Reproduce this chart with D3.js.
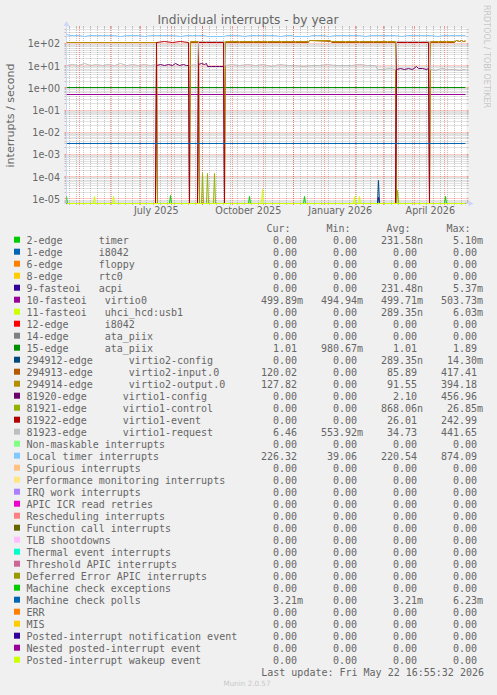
<!DOCTYPE html>
<html><head><meta charset="utf-8">
<script src="https://cdn.jsdelivr.net/npm/d3@7"></script>
<style>
html,body{margin:0;padding:0;background:#F0F0F0;}
svg text{white-space:pre;}
</style></head><body>
<svg id="chart" width="497" height="695" xmlns="http://www.w3.org/2000/svg"></svg>
<script>
// ---------------- DATA ----------------
const titleText = "Individual interrupts - by year";
const yAxisTitle = "interrupts / second";
const rangeStart = "2025-04-17T16:55:32Z";
const rangeEnd = "2026-05-22T16:55:32Z";
const lastUpdate = "Last update: Fri May 22 16:55:32 2026";
const yTickValues = [1e2, 1e1, 1e0, 1e-1, 1e-2, 1e-3, 1e-4, 1e-5];
const yTickLabels = ["1e+02", "1e+01", "1e+00", "1e-01", "1e-02", "1e-03", "1e-04", "1e-05"];
const xLabelMonths = ["2025-07-01", "2025-10-01", "2026-01-01", "2026-04-01"];
const xLabelTexts = ["July 2025", "October 2025", "January 2026", "April 2026"];

const legendNames = [
  "2-edge      timer", "1-edge      i8042", "6-edge      floppy", "8-edge      rtc0",
  "9-fasteoi   acpi", "10-fasteoi   virtio0", "11-fasteoi   uhci_hcd:usb1", "12-edge      i8042",
  "14-edge      ata_piix", "15-edge      ata_piix", "294912-edge      virtio2-config",
  "294913-edge      virtio2-input.0", "294914-edge      virtio2-output.0",
  "81920-edge      virtio1-config", "81921-edge      virtio1-control",
  "81922-edge      virtio1-event", "81923-edge      virtio1-request",
  "Non-maskable interrupts", "Local timer interrupts", "Spurious interrupts",
  "Performance monitoring interrupts", "IRQ work interrupts", "APIC ICR read retries",
  "Rescheduling interrupts", "Function call interrupts", "TLB shootdowns",
  "Thermal event interrupts", "Threshold APIC interrupts", "Deferred Error APIC interrupts",
  "Machine check exceptions", "Machine check polls", "ERR", "MIS",
  "Posted-interrupt notification event", "Nested posted-interrupt event", "Posted-interrupt wakeup event"
];
const legendColors = [
  "#00CC00", "#0066B3", "#FF8000", "#FFCC00", "#330099", "#990099", "#CCFF00", "#FF0000", "#808080",
  "#008F00", "#00487D", "#B35A00", "#B38F00", "#6B006B", "#8FB300", "#B30000", "#BEBEBE",
  "#80FF80", "#80C9FF", "#FFC080", "#FFE680", "#AA80FF", "#EE00CC", "#FF8080",
  "#666600", "#FFBFFF", "#00FFCC", "#CC6699", "#999900",
  "#00CC00", "#0066B3", "#FF8000", "#FFCC00", "#330099", "#990099", "#CCFF00"
];
const curValues = ["0.00","0.00","0.00","0.00","0.00","499.89m","0.00","0.00","0.00","1.01","0.00","120.02","127.82","0.00","0.00","0.00","6.46","0.00","226.32","0.00","0.00","0.00","0.00","0.00","0.00","0.00","0.00","0.00","0.00","0.00","3.21m","0.00","0.00","0.00","0.00","0.00"];
const minValues = ["0.00","0.00","0.00","0.00","0.00","494.94m","0.00","0.00","0.00","980.67m","0.00","0.00","0.00","0.00","0.00","0.00","553.92m","0.00","39.06","0.00","0.00","0.00","0.00","0.00","0.00","0.00","0.00","0.00","0.00","0.00","0.00","0.00","0.00","0.00","0.00","0.00"];
const avgValues = ["231.58n","0.00","0.00","0.00","231.48n","499.71m","289.35n","0.00","0.00","1.01","289.35n","85.89","91.55","2.10","868.06n","26.01","34.73","0.00","220.54","0.00","0.00","0.00","0.00","0.00","0.00","0.00","0.00","0.00","0.00","0.00","3.21m","0.00","0.00","0.00","0.00","0.00"];
const maxValues = ["5.10m","0.00","0.00","0.00","5.37m","503.73m","6.03m","0.00","0.00","1.89","14.30m","417.41","394.18","456.96","26.85m","242.99","441.65","0.00","874.09","0.00","0.00","0.00","0.00","0.00","0.00","0.00","0.00","0.00","0.00","0.00","6.23m","0.00","0.00","0.00","0.00","0.00"];

// spike series (single-day peaks, otherwise zero)
const timerSpikes = [["2025-04-18",1.3e-5],["2025-07-31",1.4e-5],["2025-10-18",1.3e-5],["2025-12-12",1.3e-5],["2026-05-02",1.3e-5]];
const acpiSpikes = [["2026-02-24",1.2e-5]];
const usbSpikes = [["2025-05-16",1.3e-5],["2025-06-04",1.3e-5],["2025-10-31",2.6e-5],["2026-01-31",1.3e-5],["2026-02-05",1.3e-5]];
const virtio2ConfigSpikes = [["2026-02-24",6.5e-5]];
const virtio1ControlSpikes = [["2025-09-01",1.4e-4],["2025-09-06",1.35e-4],["2025-09-13",1.35e-4],["2026-03-15",2.4e-5]];

// level series
const virtio0 = [["2025-04-18",0.4997],["2026-05-22",0.4997]];
const ataPiix15 = [["2025-04-18",1.01],["2026-05-22",1.01]];
const machineCheckPolls = [["2025-04-18",0.00321],["2026-05-22",0.00321]];

const virtio2Input = [
["2025-04-18",108],["2025-04-26",113],["2025-05-04",107],["2025-05-12",110],["2025-05-20",106],["2025-05-28",114],["2025-06-05",108],["2025-06-13",109],["2025-06-21",107],["2025-06-29",113],["2025-07-07",108],["2025-07-17",109],["2025-07-18",0],
["2025-08-19",0],["2025-08-20",111],["2025-08-28",110],["2025-08-29",0],
["2025-09-23",0],["2025-09-24",111],["2025-10-08",110],["2025-10-22",112],["2025-11-05",110],["2025-11-19",111],["2025-12-03",110],["2025-12-16",112],["2025-12-17",128],["2026-01-07",127],["2026-01-08",112],["2026-01-22",111],["2026-02-05",112],["2026-02-19",110],["2026-03-05",111],["2026-03-13",112],["2026-03-14",0],
["2026-04-16",0],["2026-04-17",113],["2026-04-25",114],["2026-05-03",112],["2026-05-11",113],["2026-05-13",132],["2026-05-16",118],["2026-05-18",134],["2026-05-20",116],["2026-05-22",120]];
const virtio2Output = [
["2025-04-18",112],["2025-04-26",110],["2025-05-04",113],["2025-05-12",111],["2025-05-20",114],["2025-05-28",110],["2025-06-05",112],["2025-06-13",111],["2025-06-21",113],["2025-06-29",110],["2025-07-07",112],["2025-07-17",113],["2025-07-18",0],
["2025-08-19",0],["2025-08-20",116],["2025-08-28",115],["2025-08-29",0],
["2025-09-23",0],["2025-09-24",116],["2025-10-08",115],["2025-10-22",117],["2025-11-05",115],["2025-11-19",116],["2025-12-03",115],["2025-12-16",117],["2025-12-17",135],["2026-01-07",134],["2026-01-08",117],["2026-01-22",116],["2026-02-05",117],["2026-02-19",115],["2026-03-05",116],["2026-03-13",117],["2026-03-14",0],
["2026-04-16",0],["2026-04-17",118],["2026-04-25",119],["2026-05-03",117],["2026-05-11",118],["2026-05-13",138],["2026-05-16",124],["2026-05-18",140],["2026-05-20",121],["2026-05-22",128]];
const virtio1Config = [
["2025-04-18",0],["2025-07-16",0],["2025-07-17",10.2],["2025-07-21",11.0],["2025-07-25",9.8],["2025-07-29",11.5],["2025-08-02",10.6],["2025-08-05",12.3],["2025-08-09",10.5],["2025-08-13",11.2],["2025-08-16",10.0],["2025-08-18",10.6],["2025-08-19",0],
["2025-08-27",0],["2025-08-28",11.5],["2025-08-31",12.6],["2025-09-03",11.4],["2025-09-05",12.0],["2025-09-06",9.4],["2025-09-10",9.0],["2025-09-14",8.8],["2025-09-18",9.1],["2025-09-22",8.7],["2025-09-23",0],
["2026-03-13",0],["2026-03-14",6.6],["2026-03-18",7.2],["2026-03-22",6.8],["2026-03-26",7.4],["2026-03-30",7.0],["2026-04-03",8.8],["2026-04-05",7.1],["2026-04-09",7.3],["2026-04-13",6.9],["2026-04-15",7.2],["2026-04-16",0],["2026-05-22",0]];
const virtio1Event = [
["2025-04-18",0],["2025-07-16",0],["2025-07-17",114],["2025-07-25",116],["2025-08-02",113],["2025-08-10",115],["2025-08-18",114],["2025-08-19",0],
["2025-08-27",0],["2025-08-28",112],["2025-09-05",113],["2025-09-15",111],["2025-09-22",112],["2025-09-23",0],
["2026-03-13",0],["2026-03-14",112],["2026-03-25",113],["2026-04-05",111],["2026-04-15",112],["2026-04-16",0],["2026-05-22",0]];
// null = no data (gap)
const virtio1Request = [
["2025-04-18",10.5],["2025-04-24",11.5],["2025-04-30",10.2],["2025-05-06",11.8],["2025-05-12",10.4],["2025-05-18",11.2],["2025-05-24",10.0],["2025-05-30",11.5],["2025-06-05",10.3],["2025-06-11",11.9],["2025-06-17",10.5],["2025-06-23",11.2],["2025-06-29",10.1],["2025-07-05",11.6],["2025-07-11",10.4],["2025-07-16",11.0],["2025-07-17",null],
["2025-08-19",null],["2025-08-20",10.4],["2025-08-24",11.5],["2025-08-27",10.6],["2025-08-28",118],["2025-09-04",121],["2025-09-10",116],["2025-09-16",120],["2025-09-23",118],["2025-09-24",10.2],
["2025-09-30",11.0],["2025-10-08",9.8],["2025-10-16",10.9],["2025-10-24",9.6],["2025-11-01",10.7],["2025-11-09",9.5],["2025-11-17",10.8],["2025-11-25",9.9],["2025-12-03",10.6],["2025-12-11",9.4],["2025-12-19",10.5],["2025-12-27",9.9],["2026-01-04",11.0],["2026-01-12",9.7],["2026-01-20",10.6],["2026-01-28",10.0],["2026-02-05",10.8],["2026-02-13",9.8],["2026-02-21",10.3],["2026-02-23",6.9],["2026-03-01",6.5],["2026-03-07",7.2],["2026-03-13",6.6],
["2026-03-14",118],["2026-03-22",120],["2026-03-30",117],["2026-04-07",119],["2026-04-16",118],["2026-04-17",6.8],["2026-04-22",6.2],["2026-04-28",7.1],["2026-05-04",6.4],["2026-05-10",7.0],["2026-05-16",6.3],["2026-05-22",6.5]];
const localTimer = [
["2025-04-18",245],["2025-04-21",226],["2025-04-25",214],["2025-05-01",228],["2025-05-06",213],["2025-05-12",227],["2025-05-18",215],["2025-05-24",229],["2025-05-30",214],["2025-06-05",227],["2025-06-11",213],["2025-06-17",228],["2025-06-23",215],["2025-06-29",226],["2025-07-05",213],["2025-07-11",229],["2025-07-17",214],["2025-07-23",227],["2025-07-29",215],["2025-08-04",228],["2025-08-10",213],["2025-08-16",227],["2025-08-22",214],["2025-08-28",228],["2025-09-03",215],["2025-09-06",205],["2025-09-15",203],["2025-09-23",206],["2025-09-25",226],["2025-10-01",214],["2025-10-07",228],["2025-10-13",213],["2025-10-19",227],["2025-10-25",215],["2025-10-31",228],["2025-11-06",214],["2025-11-12",227],["2025-11-18",213],["2025-11-24",228],["2025-11-30",215],["2025-12-02",201],["2025-12-10",199],["2025-12-17",200],["2025-12-19",226],["2025-12-25",214],["2025-12-31",228],["2026-01-06",213],["2026-01-12",227],["2026-01-18",215],["2026-01-24",228],["2026-01-30",214],["2026-02-05",227],["2026-02-11",213],["2026-02-17",228],["2026-02-23",215],["2026-03-01",227],["2026-03-07",214],["2026-03-13",228],["2026-03-19",213],["2026-03-25",227],["2026-03-31",215],["2026-04-06",228],["2026-04-12",214],["2026-04-18",227],["2026-04-24",213],["2026-04-30",228],["2026-05-06",215],["2026-05-12",227],["2026-05-18",214],["2026-05-22",226]];

// ---------------- CHART ----------------
const parse = d3.utcParse("%Y-%m-%d");
const t0 = new Date(rangeStart), t1 = new Date(rangeEnd);
const X0 = 66.5, X1 = 466.5, Y0 = 203, Y1 = 28;
const x = d3.scaleUtc().domain([t0, t1]).range([X0, X1]);
const y = d3.scaleLog().domain([Math.pow(10, -5.18), Math.pow(10, 2.69)]).range([Y0, Y1]);
const snap = v => Math.floor(v) + 0.5;

const FONT = "DejaVu Sans, Verdana, sans-serif";
const MONO = "DejaVu Sans Mono, monospace";
const TXT = "#666666";

const svg = d3.select("#chart");
svg.append("rect").attr("width", 497).attr("height", 695).attr("fill", "#F0F0F0");
svg.append("rect").attr("x", X0).attr("y", Y1).attr("width", X1 - X0).attr("height", Y0 - Y1 + 1).attr("fill", "#FFFFFF");

// title
svg.append("text").attr("x", 248).attr("y", 24).attr("text-anchor", "middle")
  .attr("font-family", FONT).attr("font-size", 12.2).attr("fill", TXT).text(titleText);
// watermark
svg.append("text").attr("transform", "translate(484,5) rotate(90)")
  .attr("font-family", FONT).attr("font-size", 8).attr("fill", "#666").attr("opacity", 0.3)
  .text("RRDTOOL / TOBI OETIKER");
// y axis title
svg.append("text").attr("transform", `translate(14,${(Y0 + Y1) / 2}) rotate(-90)`).attr("text-anchor", "middle")
  .attr("font-family", FONT).attr("font-size", 11).attr("fill", TXT).text(yAxisTitle);

// grid
const grid = svg.append("g");
const minorCol = "rgba(140,140,140,0.5)", majorCol = "rgba(255,32,0,0.45)";
const lo = Math.floor(Math.log10(y.domain()[0])), hi = Math.ceil(Math.log10(y.domain()[1]));
const minorY = [];
for (let e = lo; e <= hi; e++) for (let k = 2; k <= 9; k++) {
  const v = k * Math.pow(10, e);
  if (v > y.domain()[0] && v < y.domain()[1]) minorY.push(v);
}
const weeks = d3.utcMonday.range(t0, t1);
const months = d3.utcMonth.range(t0, t1);
function hline(v, col) {
  const yy = snap(y(v));
  grid.append("line").attr("x1", X0).attr("x2", X1).attr("y1", yy).attr("y2", yy)
    .attr("stroke", col).attr("stroke-dasharray", "1,1");
  grid.append("line").attr("x1", X0 - 2).attr("x2", X0).attr("y1", yy).attr("y2", yy).attr("stroke", col);
  grid.append("line").attr("x1", X1).attr("x2", X1 + 2).attr("y1", yy).attr("y2", yy).attr("stroke", col);
}
function vline(t, col) {
  const xx = snap(x(t));
  grid.append("line").attr("x1", xx).attr("x2", xx).attr("y1", Y1).attr("y2", Y0)
    .attr("stroke", col).attr("stroke-dasharray", "1,1");
  grid.append("line").attr("x1", xx).attr("x2", xx).attr("y1", Y0).attr("y2", Y0 + 2).attr("stroke", col);
  grid.append("line").attr("x1", xx).attr("x2", xx).attr("y1", Y1 - 2).attr("y2", Y1).attr("stroke", col);
}
minorY.forEach(v => hline(v, minorCol));
weeks.forEach(t => vline(t, minorCol));
yTickValues.forEach(v => hline(v, majorCol));
months.forEach(t => vline(t, majorCol));

// axes lines + arrows
const axCol = "#CFD6F8";
svg.append("line").attr("x1", X0 - 2).attr("x2", X1 + 4).attr("y1", Y0 + 0.5).attr("y2", Y0 + 0.5).attr("stroke", axCol);
svg.append("line").attr("x1", X0).attr("x2", X0).attr("y1", Y0 + 2).attr("y2", Y1 - 4).attr("stroke", axCol);
svg.append("path").attr("d", `M${X1 + 2},${Y0 - 2.5}L${X1 + 7},${Y0 + 0.5}L${X1 + 2},${Y0 + 3.5}Z`).attr("fill", axCol);
svg.append("path").attr("d", `M${X0 - 3},${Y1 - 2}L${X0},${Y1 - 7}L${X0 + 3},${Y1 - 2}Z`).attr("fill", axCol);

// axis labels through d3 axes
const yAxis = d3.axisLeft(y).tickValues(yTickValues).tickSize(0).tickPadding(0)
  .tickFormat((d, i) => yTickLabels[i]);
const gy = svg.append("g").attr("transform", `translate(${X0 - 6.5},0)`).call(yAxis);
gy.select(".domain").remove();
gy.selectAll("text").attr("font-family", FONT).attr("font-size", 9.6).attr("fill", TXT).attr("dy", "0.36em");

const labelDates = xLabelMonths.map(m => d3.utcDay.offset(parse(m), 15));
const xAxis = d3.axisBottom(x).tickValues(labelDates).tickSize(0).tickPadding(0)
  .tickFormat((d, i) => xLabelTexts[i]);
const gx = svg.append("g").attr("transform", `translate(0,${Y0 + 4})`).call(xAxis);
gx.select(".domain").remove();
gx.selectAll("text").attr("font-family", FONT).attr("font-size", 9.6).attr("fill", TXT).attr("dy", "0.71em");

// series
function knots(arr) { return arr.map(([d, v]) => [parse(d), v]); }
function spikes(list) {
  const pts = [[parse("2025-04-17"), 0]];
  list.forEach(([d, v]) => {
    const t = parse(d);
    pts.push([d3.utcDay.offset(t, -1), 0], [t, v], [d3.utcDay.offset(t, 1), 0]);
  });
  pts.push([parse("2026-05-22"), 0]);
  return pts.sort((a, b) => a[0] - b[0]);
}
const zeroLine = [[parse("2025-04-18"), 0], [parse("2026-05-22"), 0]];
const seriesData = legendNames.map(() => zeroLine);
seriesData[0] = spikes(timerSpikes);
seriesData[4] = spikes(acpiSpikes);
seriesData[5] = knots(virtio0);
seriesData[6] = spikes(usbSpikes);
seriesData[9] = knots(ataPiix15);
seriesData[10] = spikes(virtio2ConfigSpikes);
seriesData[11] = knots(virtio2Input);
seriesData[12] = knots(virtio2Output);
seriesData[13] = knots(virtio1Config);
seriesData[14] = spikes(virtio1ControlSpikes);
seriesData[15] = knots(virtio1Event);
seriesData[16] = knots(virtio1Request);
seriesData[18] = knots(localTimer);
seriesData[30] = knots(machineCheckPolls);

svg.append("clipPath").attr("id", "cv").append("rect")
  .attr("x", X0).attr("y", Y1 - 1).attr("width", X1 - X0).attr("height", Y0 - Y1 + 2);
const line = d3.line()
  .defined(d => d[1] !== null)
  .x(d => snap(x(d[0])))
  .y(d => d[1] > 0 ? snap(y(d[1])) : Y0 + 0.5);
const plot = svg.append("g").attr("clip-path", "url(#cv)");
seriesData.forEach((data, i) => {
  plot.append("path").datum(data).attr("d", line).attr("fill", "none")
    .attr("stroke", legendColors[i]).attr("stroke-width", 1);
});

// legend
const LX = 26.5, colX = [261, 321, 381, 441];
const heads = ["Cur:", "Min:", "Avg:", "Max:"];
const rowBase = i => 243.5 + 12 * i;
const lg = svg.append("g").attr("font-family", MONO).attr("font-size", 10).attr("fill", TXT);
heads.forEach((h, j) => lg.append("text").attr("x", colX[j] + 5.5).attr("y", rowBase(-1)).text(h));
function fmt(s) {
  const last = s[s.length - 1];
  const hasSuf = /[a-zA-Z]/.test(last);
  const num = hasSuf ? s.slice(0, -1) : s;
  return num.padStart(6, " ") + (hasSuf ? last : " ");
}
legendNames.forEach((n, i) => {
  const b = rowBase(i);
  lg.append("rect").attr("x", 14).attr("y", b - 6.8).attr("width", 6).attr("height", 6).attr("fill", legendColors[i]);
  lg.append("text").attr("x", LX).attr("y", b).attr("xml:space", "preserve").text(n);
  [curValues[i], minValues[i], avgValues[i], maxValues[i]].forEach((v, j) => {
    lg.append("text").attr("x", colX[j]).attr("y", b).attr("xml:space", "preserve").text(fmt(v));
  });
});
lg.append("text").attr("x", 484).attr("y", rowBase(36)).attr("text-anchor", "end").text(lastUpdate);
svg.append("text").attr("x", 247).attr("y", 686).attr("text-anchor", "middle")
  .attr("font-family", FONT).attr("font-size", 7.2).attr("fill", "#666").attr("opacity", 0.3).text("Munin 2.0.57");
</script>
</body></html>
